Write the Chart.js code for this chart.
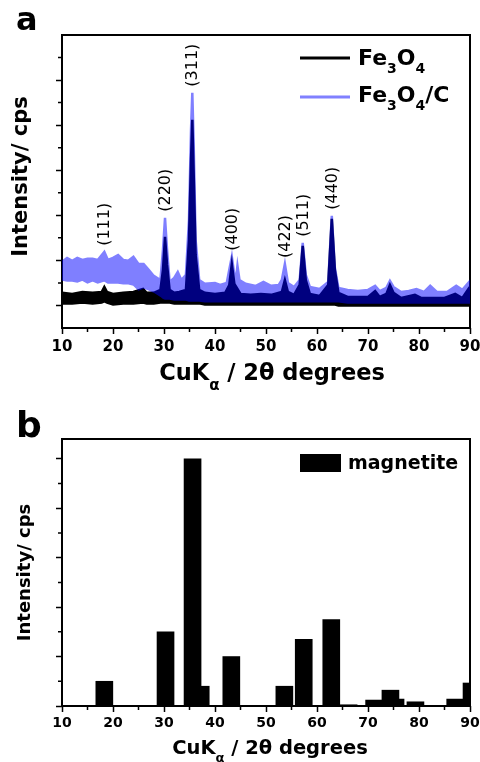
<!DOCTYPE html>
<html>
<head>
<meta charset="utf-8">
<script src="https://cdn.jsdelivr.net/npm/chart.js@4.4.0/dist/chart.umd.min.js"></script>
<style>
  html, body { margin: 0; padding: 0; background: #fff; }
  #page { position: relative; width: 480px; height: 762px; }
  .panel { position: absolute; left: 0; width: 480px; }
  #panelA { top: 0; height: 395px; }
  #panelB { top: 395px; height: 367px; }
  .layer { position: absolute; left: 0; top: 0; width: 480px; height: 100%; }
  /* the Fe3O4/C pattern is drawn half transparent over the Fe3O4 one */
  #blueLayer { opacity: 0.5; }
</style>
</head>
<body>
<div id="page">
  <div class="panel" id="panelA">
    <div class="layer"><canvas id="chartA"></canvas></div>
    <div class="layer" id="blueLayer"><canvas id="chartABlue"></canvas></div>
  </div>
  <div class="panel" id="panelB">
    <div class="layer"><canvas id="chartB"></canvas></div>
  </div>
</div>
<script>
Chart.defaults.font.family = '"DejaVu Sans", sans-serif';
Chart.defaults.color = '#000';
Chart.defaults.animation = false;

// ---- panel a : XRD patterns, intensity (cps) ----
// each pattern is a noisy band: top and bottom edge of the band
const fe3o4Angles = [10, 12, 14, 16, 17.8, 18.3, 18.8, 20, 22, 24, 25.9, 26.6, 28, 29.3, 29.8, 30.2, 30.6, 31.1, 32, 33, 34.3, 34.9, 35.3, 35.55, 35.8, 36.2, 36.9, 38, 40, 42, 42.8, 43.3, 43.8, 44.4, 45, 47, 49, 51, 53.1, 53.7, 54.3, 55.5, 56.6, 57.2, 57.8, 58.6, 60.5, 62.2, 62.9, 63.5, 64.2, 66, 68, 70, 71.4, 72.3, 73.6, 74.3, 75, 76.5, 79.2, 80.5, 83, 85, 87.1, 88.5, 89.7, 90];
const fe3o4Top = [156, 151, 160, 156, 160, 182, 160, 151, 156, 160, 173, 156, 156, 169, 258, 404, 280, 169, 156, 160, 169, 391, 747, 924, 702, 324, 169, 156, 151, 156, 191, 284, 196, 173, 151, 147, 151, 147, 160, 213, 160, 147, 191, 364, 213, 151, 142, 191, 484, 258, 156, 138, 138, 138, 164, 138, 151, 191, 156, 133, 147, 133, 133, 133, 151, 133, 173, 156];
const fe3o4Bottom = [107, 107, 111, 107, 111, 116, 111, 102, 107, 107, 111, 107, 107, 111, 111, 111, 111, 111, 107, 107, 107, 107, 107, 107, 107, 107, 107, 102, 102, 102, 102, 102, 102, 102, 102, 102, 102, 102, 102, 102, 102, 102, 102, 102, 102, 102, 102, 102, 102, 102, 98, 98, 98, 98, 98, 98, 98, 98, 98, 98, 98, 98, 98, 98, 98, 98, 98, 98];

const carbonAngles = [10, 11, 12, 13, 14, 15, 16, 17, 18.3, 19, 20, 21, 22, 23, 24, 25, 26, 27, 28, 29.3, 29.8, 30.2, 30.6, 31.1, 32, 32.7, 33.4, 34.3, 34.9, 35.3, 35.55, 35.8, 36.2, 36.9, 38, 40, 41, 42.3, 42.8, 43.3, 43.8, 44.1, 44.4, 44.8, 46, 48, 49.5, 51, 52.5, 53.1, 53.7, 54.3, 55.5, 56.6, 57.2, 57.8, 58.6, 60.5, 62.2, 62.9, 63.5, 64.2, 66, 68, 70, 71.4, 72.3, 73.6, 74.3, 75, 76.5, 78, 79.5, 81, 82.2, 83.5, 85.5, 87.3, 88.5, 89.8, 90];
const carbonTop = [293, 311, 298, 311, 302, 307, 307, 302, 338, 302, 311, 324, 302, 298, 316, 284, 284, 258, 231, 213, 347, 489, 347, 204, 222, 249, 213, 236, 480, 880, 1044, 836, 391, 213, 196, 200, 191, 200, 258, 316, 236, 213, 276, 213, 196, 187, 204, 187, 191, 213, 284, 200, 182, 213, 378, 236, 182, 173, 204, 498, 267, 178, 169, 164, 169, 187, 164, 178, 209, 182, 160, 164, 173, 160, 187, 160, 160, 187, 169, 204, 187];
const carbonBottom = [213, 209, 209, 204, 213, 200, 209, 200, 209, 200, 200, 200, 196, 196, 191, 169, 178, 169, 160, 142, 133, 129, 129, 129, 124, 124, 124, 124, 120, 120, 120, 120, 120, 120, 116, 116, 116, 116, 116, 116, 116, 116, 116, 116, 116, 116, 116, 116, 116, 116, 116, 116, 116, 116, 116, 116, 116, 116, 116, 116, 116, 116, 111, 111, 111, 111, 111, 111, 111, 111, 111, 111, 111, 111, 111, 111, 111, 111, 111, 111, 111];

const peakLabels = ['(111)', '(220)', '(311)', '(400)', '(422)', '(511)', '(440)'];
const peakAngles = [18.3, 30.2, 35.55, 43.3, 53.7, 57.2, 62.9];

const angleTicks = [10, 20, 30, 40, 50, 60, 70, 80, 90];
const angleMinorTicks = [15, 25, 35, 45, 55, 65, 75, 85];
const intensityTicksA = [100, 300, 500, 700, 900, 1100];
const intensityMinorA = [200, 400, 600, 800, 1000, 1200];

// ---- panel b : magnetite reference lines ----
const magnetiteAngles = [18.3, 30.3, 35.6, 37.2, 43.2, 53.6, 57.4, 62.8, 66.2, 71.2, 74.4, 75.4, 79.3, 87.1, 90.3];
const magnetiteIntensity = [10, 30, 100, 8, 20, 8, 27, 35, 0.5, 2.4, 6.4, 2.8, 1.7, 2.8, 9.3];
const intensityTicksB = [0, 20, 40, 60, 80, 100];
const intensityMinorB = [10, 30, 50, 70, 90];

function toPoints(xs, ys) {
    return xs.map((x, i) => ({ x: x, y: ys[i] }));
}

function makeScales(cfg) {
    return {
        x: {
            type: 'linear', min: 10, max: 90, offset: false,
            afterBuildTicks: s => { s.ticks = angleTicks.map(v => ({ value: v })); },
            ticks: { font: { size: cfg.tickSize, weight: 'bold' }, color: cfg.color, padding: cfg.tickPad, maxRotation: 0, autoSkip: false },
            grid: { offset: false, drawOnChartArea: false, tickLength: 6, tickWidth: 1.5, tickColor: cfg.color },
            border: { display: false },
            // fixed size, and the end labels may hang over the frame
            afterFit: s => { s.height = cfg.xHeight; s.paddingLeft = 0; s.paddingRight = 0; }
        },
        y: {
            type: 'linear', min: cfg.yMin, max: cfg.yMax,
            afterBuildTicks: s => { s.ticks = cfg.yTicks.map(v => ({ value: v })); },
            ticks: { display: false },
            grid: { drawOnChartArea: false, tickLength: 6, tickWidth: 1.5, tickColor: cfg.color },
            border: { display: false },
            afterFit: s => { s.width = 62; s.paddingTop = 0; s.paddingBottom = 0; }
        }
    };
}

function drawFrame(ctx, a, x, y, xMinor, yMinor) {
    ctx.strokeStyle = '#000';
    ctx.lineWidth = 2;
    ctx.strokeRect(a.left, a.top, a.right - a.left, a.bottom - a.top);
    ctx.lineWidth = 1.5;
    ctx.beginPath();
    xMinor.forEach(v => {
        const p = x.getPixelForValue(v);
        ctx.moveTo(p, a.bottom); ctx.lineTo(p, a.bottom + 4);
    });
    yMinor.forEach(v => {
        const p = y.getPixelForValue(v);
        ctx.moveTo(a.left, p); ctx.lineTo(a.left - 4, p);
    });
    ctx.stroke();
}

// text with subscripts: parts = [[text, isSub], ...]
function drawRich(ctx, parts, x, y, size, align, subShift) {
    const mainFont = 'bold ' + size + 'px "DejaVu Sans"';
    const subFont = 'bold ' + Math.round(size * 0.65) + 'px "DejaVu Sans"';
    let w = 0;
    parts.forEach(p => { ctx.font = p[1] ? subFont : mainFont; w += ctx.measureText(p[0]).width; });
    let cx = align === 'center' ? x - w / 2 : x;
    ctx.textAlign = 'left';
    ctx.textBaseline = 'alphabetic';
    ctx.fillStyle = '#000';
    parts.forEach(p => {
        ctx.font = p[1] ? subFont : mainFont;
        ctx.fillText(p[0], cx, p[1] ? y + size * subShift : y);
        cx += ctx.measureText(p[0]).width;
    });
}

function drawYTitle(ctx, text, cx, cy, size) {
    ctx.save();
    ctx.translate(cx, cy);
    ctx.rotate(-Math.PI / 2);
    ctx.font = 'bold ' + size + 'px "DejaVu Sans"';
    ctx.textAlign = 'center';
    ctx.textBaseline = 'middle';
    ctx.fillStyle = '#000';
    ctx.fillText(text, 0, 0);
    ctx.restore();
}

const xTitleParts = [['CuK', false], ['\u03B1', true], [' / 2\u03B8 degrees', false]];

const panelADecor = {
    id: 'panelADecor',
    afterDraw(chart) {
        const { ctx, chartArea: a, scales: { x, y } } = chart;
        ctx.save();
        drawFrame(ctx, a, x, y, angleMinorTicks, intensityMinorA);

        // hkl labels above the peaks
        ctx.fillStyle = '#000';
        ctx.font = '16px "DejaVu Sans"';
        ctx.textAlign = 'left';
        ctx.textBaseline = 'middle';
        peakLabels.forEach((label, i) => {
            const ang = peakAngles[i];
            const top = carbonTop[carbonAngles.indexOf(ang)];
            ctx.save();
            ctx.translate(x.getPixelForValue(ang) + 1, y.getPixelForValue(top) - 6);
            ctx.rotate(-Math.PI / 2);
            ctx.fillText(label, 0, 0);
            ctx.restore();
        });

        // legend
        ctx.lineWidth = 3;
        ctx.strokeStyle = '#000';
        ctx.beginPath(); ctx.moveTo(a.right - 170, a.top + 23); ctx.lineTo(a.right - 120, a.top + 23); ctx.stroke();
        ctx.strokeStyle = 'rgb(128,128,255)';
        ctx.beginPath(); ctx.moveTo(a.right - 170, a.top + 62); ctx.lineTo(a.right - 120, a.top + 62); ctx.stroke();
        drawRich(ctx, [['Fe', false], ['3', true], ['O', false], ['4', true]], a.right - 112, a.top + 30, 22, 'left', 0.36);
        drawRich(ctx, [['Fe', false], ['3', true], ['O', false], ['4', true], ['/C', false]], a.right - 112, a.top + 67, 22, 'left', 0.36);

        // titles
        drawRich(ctx, xTitleParts, (a.left + a.right) / 2 + 6, a.bottom + 52, 22.5, 'center', 0.45);
        drawYTitle(ctx, 'Intensity/ cps', 22, (a.top + a.bottom) / 2 - 5, 21);
        ctx.font = 'bold 32px "DejaVu Sans"';
        ctx.textAlign = 'left';
        ctx.textBaseline = 'alphabetic';
        ctx.fillText('a', 16, 30);
        ctx.restore();
    }
};

const panelBDecor = {
    id: 'panelBDecor',
    afterDraw(chart) {
        const { ctx, chartArea: a, scales: { x, y } } = chart;
        ctx.save();
        drawFrame(ctx, a, x, y, angleMinorTicks, intensityMinorB);
        ctx.fillStyle = '#000';
        ctx.fillRect(a.right - 170, a.top + 15, 41, 18);
        drawRich(ctx, [['magnetite', false]], a.right - 122, a.top + 30, 19, 'left', 0);
        drawRich(ctx, xTitleParts, (a.left + a.right) / 2 + 4, a.bottom + 48, 19.5, 'center', 0.42);
        drawYTitle(ctx, 'Intensity/ cps', 25, (a.top + a.bottom) / 2, 18);
        ctx.font = 'bold 36px "DejaVu Sans"';
        ctx.textAlign = 'left';
        ctx.textBaseline = 'alphabetic';
        ctx.fillText('b', 16, 42);
        ctx.restore();
    }
};

function bandDatasets(label, angles, top, bottom, color) {
    return [{
        label: label,
        data: toPoints(angles, top),
        borderColor: color, borderWidth: 2.5,
        pointRadius: 0, tension: 0, fill: false
    }, {
        label: label + ' (band)',
        data: toPoints(angles, bottom),
        borderColor: color, borderWidth: 1.5, backgroundColor: color,
        pointRadius: 0, tension: 0, fill: '-1'
    }];
}

const scaleCfgA = { tickSize: 15, tickPad: 4, xHeight: 67, yMin: 0, yMax: 1300, yTicks: intensityTicksA };

// Fe3O4 pattern, axes and annotations
new Chart(document.getElementById('chartA'), {
    type: 'line',
    data: { datasets: bandDatasets('Fe3O4', fe3o4Angles, fe3o4Top, fe3o4Bottom, '#000') },
    options: {
        responsive: true, maintainAspectRatio: false,
        layout: { padding: { left: 0, top: 35, right: 10, bottom: 0 } },
        plugins: { legend: { display: false }, tooltip: { enabled: false } },
        scales: makeScales(Object.assign({ color: '#000' }, scaleCfgA))
    },
    plugins: [panelADecor]
});

// Fe3O4/C pattern on its own layer (same layout, invisible axes)
new Chart(document.getElementById('chartABlue'), {
    type: 'line',
    data: { datasets: bandDatasets('Fe3O4/C', carbonAngles, carbonTop, carbonBottom, '#0000ff') },
    options: {
        responsive: true, maintainAspectRatio: false,
        layout: { padding: { left: 0, top: 35, right: 10, bottom: 0 } },
        plugins: { legend: { display: false }, tooltip: { enabled: false } },
        scales: makeScales(Object.assign({ color: 'rgba(0,0,0,0)' }, scaleCfgA))
    }
});

new Chart(document.getElementById('chartB'), {
    type: 'bar',
    data: {
        datasets: [{
            label: 'magnetite',
            data: toPoints(magnetiteAngles, magnetiteIntensity),
            backgroundColor: '#000',
            borderWidth: 0,
            barThickness: 17
        }]
    },
    options: {
        responsive: true, maintainAspectRatio: false,
        layout: { padding: { left: 0, top: 44, right: 10, bottom: 0 } },
        plugins: { legend: { display: false }, tooltip: { enabled: false } },
        scales: makeScales({ color: '#000', tickSize: 14, tickPad: 3, xHeight: 56, yMin: 0, yMax: 108, yTicks: intensityTicksB })
    },
    plugins: [panelBDecor]
});
</script>
</body>
</html>
